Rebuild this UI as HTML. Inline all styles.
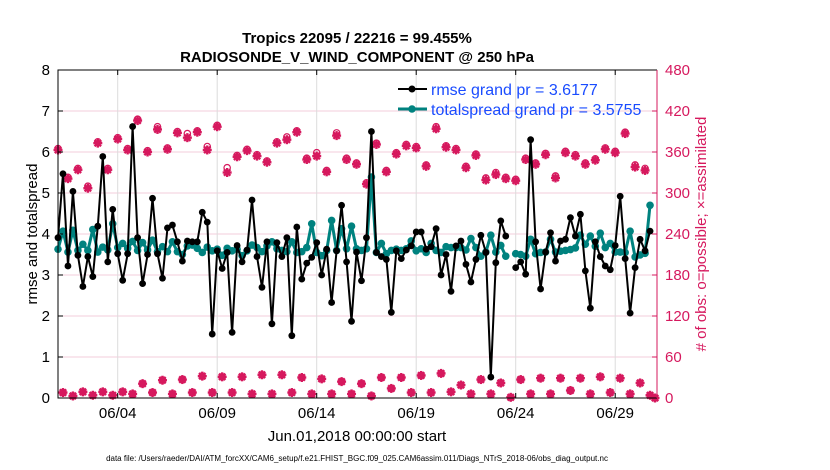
<!DOCTYPE html>
<html><head><meta charset="utf-8"><style>
body{margin:0;background:#fff;}
svg{display:block;font-family:"Liberation Sans",sans-serif;}
</style></head><body>
<svg id="chart" width="830" height="470" viewBox="0 0 830 470">
<g id="grid"></g>
<g id="obs"></g>
<g id="spread"></g>
<g id="rmse"></g>
<g id="axes"></g>
<text x="357" y="43" text-anchor="middle" font-size="15" font-weight="bold">Tropics 22095 / 22216 = 99.455%</text>
<text x="357" y="62" text-anchor="middle" font-size="15" font-weight="bold">RADIOSONDE_V_WIND_COMPONENT @ 250 hPa</text>
<text transform="translate(37,234) rotate(-90)" text-anchor="middle" font-size="15">rmse and totalspread</text>
<text transform="translate(706,234) rotate(-90)" text-anchor="middle" font-size="15" fill="#d6195e"># of obs: o=possible; ×=assimilated</text>
<text x="357" y="441" text-anchor="middle" font-size="15">Jun.01,2018 00:00:00 start</text>
<text x="357" y="461" text-anchor="middle" font-size="8">data file: /Users/raeder/DAI/ATM_forcXX/CAM6_setup/f.e21.FHIST_BGC.f09_025.CAM6assim.011/Diags_NTrS_2018-06/obs_diag_output.nc</text>
<g>
<g>
<line x1="398" y1="89" x2="427" y2="89" stroke="#000" stroke-width="2"/>
<circle cx="412" cy="89" r="3.5" fill="#000"/>
<text x="431" y="95" font-size="16" fill="#1a4cff">rmse grand pr = 3.6177</text></g>
<g>
<line x1="398" y1="109" x2="427" y2="109" stroke="#00827f" stroke-width="3"/>
<circle cx="412" cy="109" r="3.8" fill="#00827f"/>
<text x="431" y="115" font-size="16" fill="#1a4cff">totalspread grand pr = 3.5755</text></g>
</g>
</svg>
<script>
const rmseValues=[3.91,5.47,3.22,5.04,3.48,2.72,3.45,2.96,4.19,5.89,3.32,4.6,3.52,2.87,3.52,6.62,3.91,2.79,3.5,4.87,3.52,2.92,4.15,4.22,3.81,3.34,3.83,3.81,3.81,4.53,4.29,1.56,3.59,3.16,3.55,1.6,3.72,3.32,3.61,4.83,3.45,2.7,3.81,1.81,3.79,3.45,3.91,1.52,4.17,2.9,3.29,3.43,3.79,3.0,3.63,2.33,3.59,4.7,3.32,1.87,3.56,2.86,3.91,6.5,3.55,3.45,3.38,2.09,3.59,3.4,3.61,3.71,4.05,4.05,3.63,3.69,4.13,3.0,3.5,2.6,3.71,3.83,3.26,2.83,3.38,3.97,3.55,0.51,3.30,4.32,3.95,null,3.18,3.32,3.02,6.30,3.81,2.66,3.56,4.03,3.34,3.83,3.87,4.40,3.95,4.48,3.10,2.19,3.81,3.45,3.22,3.13,3.72,4.92,3.40,2.07,3.18,3.87,3.59,4.07,null];
const spreadValues=[3.63,4.07,3.56,4.09,3.6,3.75,3.6,4.11,3.56,3.68,3.61,4.25,3.67,3.77,3.65,3.82,3.6,3.79,3.61,3.85,3.57,3.69,3.57,3.81,3.57,3.5,3.71,3.73,3.65,3.55,3.68,3.59,3.63,3.48,3.65,3.59,3.63,3.47,3.59,3.73,3.67,3.57,3.71,3.81,3.64,3.6,3.57,3.81,3.55,3.57,3.67,4.25,3.55,3.47,3.6,4.33,3.6,4.13,3.64,4.19,3.64,3.6,3.64,5.39,3.55,3.77,3.52,3.6,3.63,3.6,3.64,3.83,3.59,3.64,3.55,3.77,3.6,3.55,3.69,3.67,3.67,3.67,3.61,3.89,3.67,3.46,3.56,3.97,3.56,3.72,3.46,null,3.52,3.50,3.46,3.87,3.52,3.55,3.56,3.87,3.56,3.58,3.60,3.62,3.66,3.97,3.75,3.95,3.70,4.02,3.67,3.77,3.56,3.56,3.55,4.07,3.44,3.49,3.53,4.70,null];
const obsAssimilated=[363,8,321,3,334,9,307,4,373,9,334,4,379,9,363,6,406,21,360,8,393,26,364,6,388,27,381,8,389,32,363,8,397,31,330,8,353,31,362,6,354,34,345,6,373,34,378,8,389,30,349,6,354,28,331,6,384,24,349,6,342,21,313,3,371,30,331,14,357,30,369,8,366,33,339,8,394,36,367,9,363,19,337,6,355,27,319,6,327,22,321,1,318,27,349,6,342,29,356,6,322,29,359,11,354,29,342,6,348,31,364,8,359,29,387,6,338,22,333,4,0];
const obsPossible=[365,8,323,3,336,9,310,4,375,9,336,4,381,9,365,6,408,21,362,8,397,26,366,6,390,27,387,8,391,32,368,8,399,31,337,8,355,31,364,6,356,34,347,6,375,34,382,8,391,30,351,6,359,28,333,6,388,24,351,6,344,21,315,3,373,30,333,14,359,30,371,8,368,33,341,8,397,36,369,9,365,19,339,6,357,27,322,6,330,22,323,1,320,27,351,6,344,29,358,6,325,29,361,11,356,29,344,6,350,31,366,8,361,29,389,6,341,22,336,4,0];
const leftTicks=[0,1,2,3,4,5,6,7,8];
const rightTicks=[0,60,120,180,240,300,360,420,480];
const dateTickDays=[3,8,13,18,23,28];
const dateTickLabels=["06/04","06/09","06/14","06/19","06/24","06/29"];
const stepDays=0.25;

const X0=58,X1=657,Y0=398,Y1=70,DMAX=30.1;
const NS="http://www.w3.org/2000/svg";
function xs(d){return X0+(X1-X0)*d/DMAX;}
function yl(v){return Y0-(Y0-Y1)*v/8;}
function yr(v){return Y0-(Y0-Y1)*v/480;}
function mk(tag,attrs,parent){const e=document.createElementNS(NS,tag);for(const k in attrs)e.setAttribute(k,attrs[k]);parent.appendChild(e);return e;}
const grid=document.getElementById('grid'),axes=document.getElementById('axes');
leftTicks.forEach((t,i)=>{
  if(t>0&&t<8){const g=mk('line',{x1:X0,x2:X1,y1:yl(t),y2:yl(t),stroke:'#f3cddb','stroke-width':1},grid);
  
  }
  const tx=mk('text',{x:X0-8,y:yl(t)+5,'text-anchor':'end','font-size':15},axes);tx.textContent=t;
  
  
  mk('line',{x1:X0,x2:X0+5,y1:yl(t),y2:yl(t),stroke:'#000'},axes);
});
rightTicks.forEach(t=>{
  const tx=mk('text',{x:X1+8,y:yr(t)+5,'font-size':15,fill:'#d6195e'},axes);tx.textContent=t;
  
  
  mk('line',{x1:X1-5,x2:X1,y1:yr(t),y2:yr(t),stroke:'#d6195e'},axes);
});
dateTickDays.forEach((d,i)=>{
  const g=mk('line',{x1:xs(d),x2:xs(d),y1:Y1,y2:Y0,stroke:'#dcdcdc'},grid);
  
  
  mk('line',{x1:xs(d),x2:xs(d),y1:Y0,y2:Y0-5,stroke:'#000'},axes);
  mk('line',{x1:xs(d),x2:xs(d),y1:Y1,y2:Y1+5,stroke:'#000'},axes);
  const tx=mk('text',{x:xs(d),y:418,'text-anchor':'middle','font-size':15},axes);tx.textContent=dateTickLabels[i];
  
  
});
mk('path',{d:`M${X1},${Y1}H${X0}V${Y0}H${X1}`,fill:'none',stroke:'#000','stroke-width':1},axes);
mk('line',{x1:X1,x2:X1,y1:Y1,y2:Y0,stroke:'#d6195e','stroke-width':1},axes);

const obsG=document.getElementById('obs');
obsAssimilated.forEach((v,i)=>{
  const x=xs(i*stepDays),y=yr(v);
  const g=mk('g',{stroke:'#d6195e','stroke-width':2.4},obsG);
  
  
  const r=4.5;
  mk('line',{x1:x-r,x2:x+r,y1:y,y2:y},g);mk('line',{x1:x,x2:x,y1:y-r,y2:y+r},g);
  mk('line',{x1:x-3.2,x2:x+3.2,y1:y-3.2,y2:y+3.2},g);mk('line',{x1:x-3.2,x2:x+3.2,y1:y+3.2,y2:y-3.2},g);
});
obsPossible.forEach((v,i)=>{
  const c=mk('circle',{cx:xs(i*stepDays),cy:yr(v),r:3.2,fill:'none',stroke:'#d6195e','stroke-width':1.2},obsG);
  
  
});
function series(vals,gid,color,w,mr){
  const g=document.getElementById(gid);let d='',pen=false;
  vals.forEach((v,i)=>{if(v==null){pen=false;return;}d+=(pen?'L':'M')+xs(i*stepDays).toFixed(1)+','+yl(v).toFixed(1);pen=true;});
  const p=mk('path',{d:d,fill:'none',stroke:color,'stroke-width':w,'stroke-linejoin':'round'},g);
  
  
  vals.forEach((v,i)=>{if(v==null)return;
    const c=mk('circle',{cx:xs(i*stepDays),cy:yl(v),r:mr,fill:color},g);
    
    
  });
}
series(spreadValues,'spread','#00827f',3,3.8);
series(rmseValues,'rmse','#000',2,3.4);
</script>
</body></html>
